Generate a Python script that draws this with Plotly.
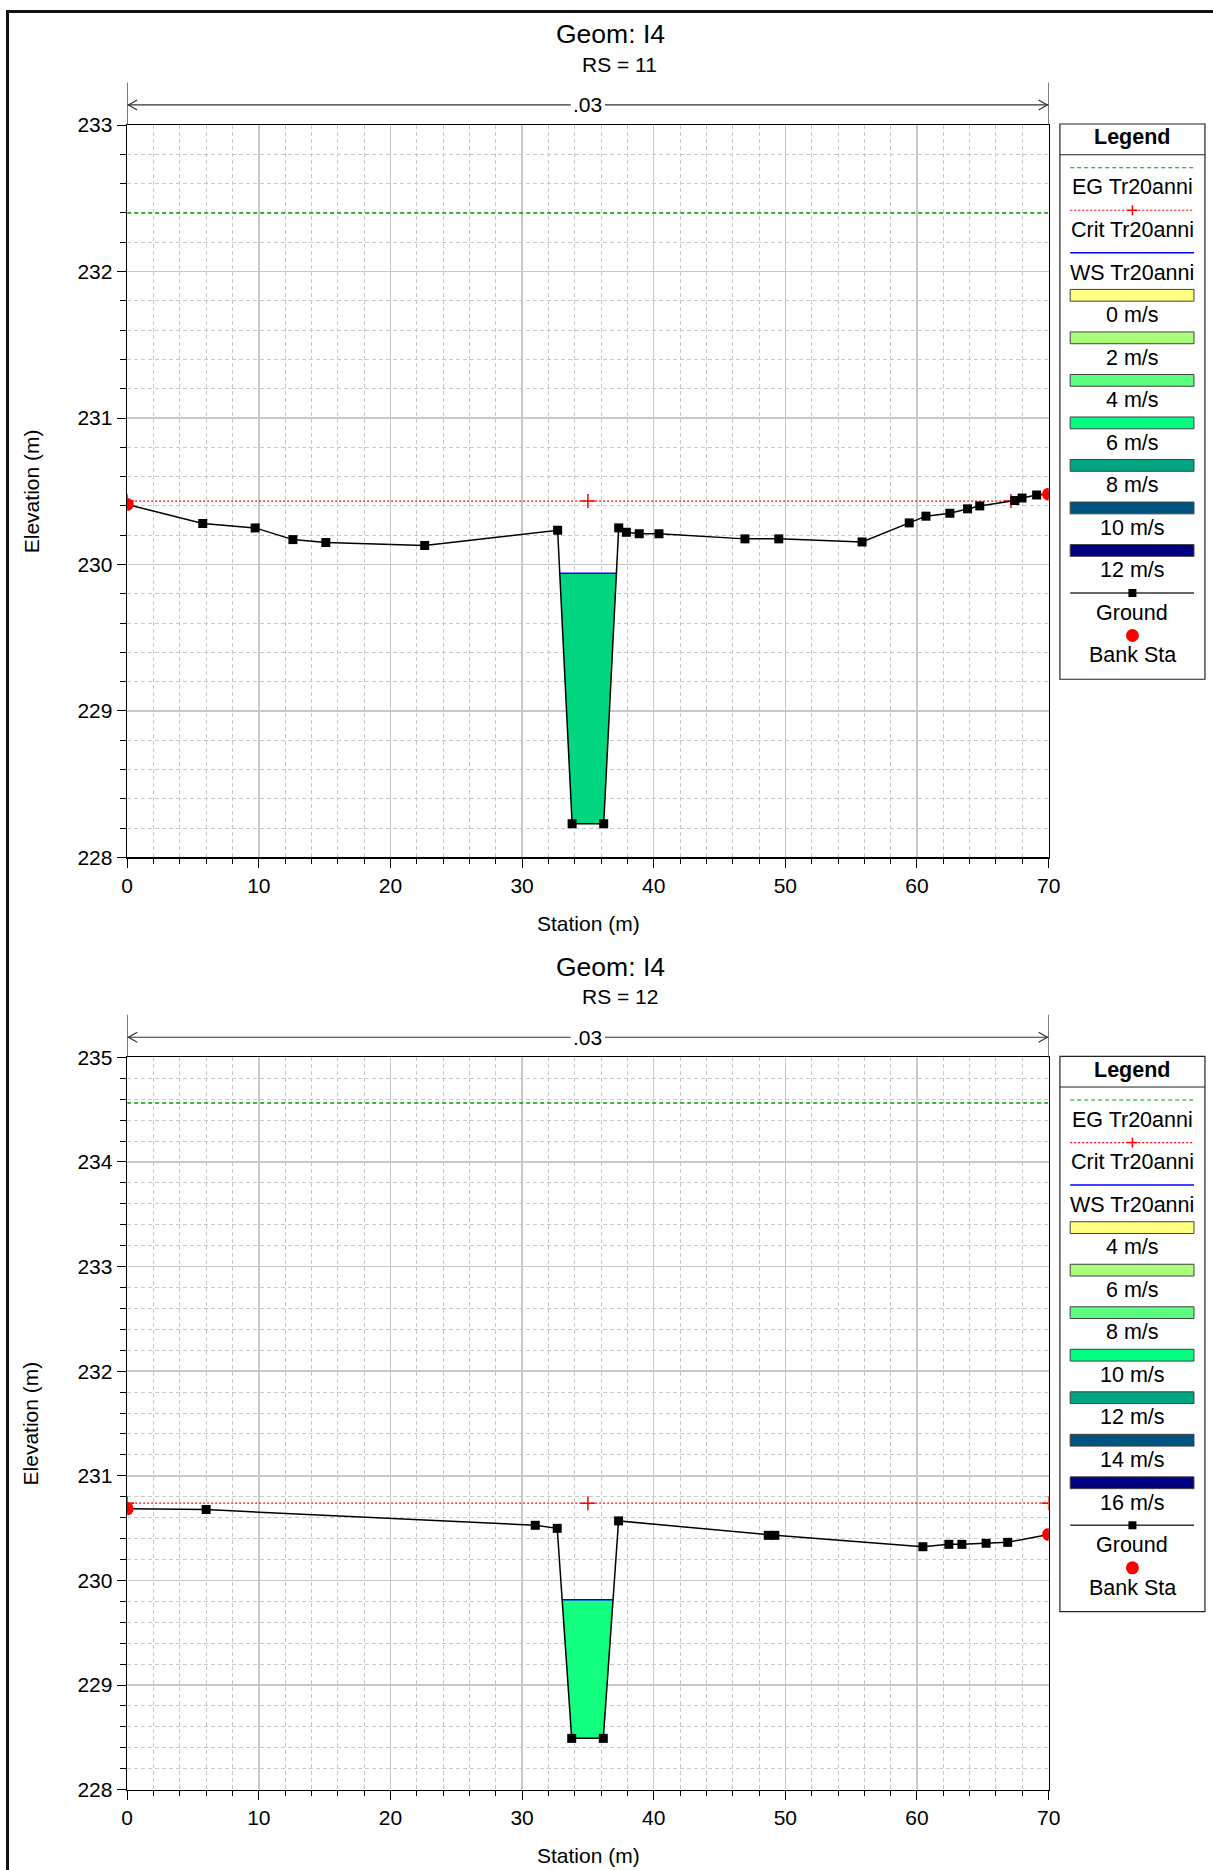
import numpy as np
import plotly.graph_objects as go

# ---------------- data ----------------
TITLE = "Geom: I4"
N_VALUE = ".03"

# RS = 11
RS_11 = "RS = 11"
STA_11 = [0.0, 5.74, 9.72, 12.59, 15.09, 22.6, 32.7, 33.8, 36.2, 37.34, 37.92, 38.9, 40.4,
          46.93, 49.5, 55.83, 59.41, 60.68, 62.5, 63.84, 64.77, 67.43, 67.98, 69.09, 70.0]
ELEV_11 = [230.41, 230.28, 230.25, 230.17, 230.15, 230.13, 230.234, 228.23, 228.23, 230.25,
           230.22, 230.21, 230.21, 230.175, 230.175, 230.154, 230.284, 230.33, 230.35, 230.38,
           230.40, 230.437, 230.454, 230.474, 230.48]
BANK_STA_11 = [0.0, 70.0]
BANK_ELEV_11 = [230.41, 230.48]
WS_11 = 229.94
CRIT_11 = 230.433
EG_11 = 232.40
CENTER_11 = 35.0
FILL_11 = "#00D680"
VEL_LABELS_11 = ["0 m/s", "2 m/s", "4 m/s", "6 m/s", "8 m/s", "10 m/s", "12 m/s"]
YRANGE_11 = [228, 233]

# RS = 12
RS_12 = "RS = 12"
STA_12 = [0.0, 6.0, 31.0, 32.67, 33.77, 36.17, 37.33, 48.7, 49.2, 60.45, 62.42, 63.41,
          65.25, 66.89, 70.0]
ELEV_12 = [230.684, 230.677, 230.527, 230.498, 228.49, 228.49, 230.569, 230.431, 230.431,
           230.322, 230.345, 230.345, 230.355, 230.364, 230.44]
BANK_STA_12 = [0.0, 70.0]
BANK_ELEV_12 = [230.684, 230.44]
WS_12 = 229.815
CRIT_12 = 230.738
EG_12 = 234.565
CENTER_12 = 35.0
FILL_12 = "#12FF80"
VEL_LABELS_12 = ["4 m/s", "6 m/s", "8 m/s", "10 m/s", "12 m/s", "14 m/s", "16 m/s"]
YRANGE_12 = [228, 235]

VEL_COLORS = ["#FFFF80", "#AAFF7A", "#5AFF80", "#00FF80", "#00A582", "#005580", "#000080"]
LEGEND_LINES = ["EG Tr20anni", "Crit Tr20anni", "WS Tr20anni"]

XRANGE = [0, 70]

# ---------------- layout constants ----------------
# positions below are given in target picture pixels; they are mapped to page pixels
W, H = 1226, 1884
SX, BX = 0.987, 5.0
SY, BY = 0.9895, 9.5
FONT = "Liberation Sans, Arial, sans-serif"
X0_PX, X1_PX = 126.4, 1049.4
PLOTS = [  # (top, bottom) target pixels
    (122.8, 856.4),
    (1056.7, 1790.2),
]
DY = PLOTS[1][0] - PLOTS[0][0]

F_TITLE = 26.5
F_SUB = 21
F_TICK = 21
F_AX = 21
F_LEG = 21.5


def px(x):
    return ((x - BX) / SX) / W


def py(y):
    return 1 - ((y - BY) / SY) / H


def crossing(sta, elev, level, center, direction):
    sta = np.asarray(sta, float)
    elev = np.asarray(elev, float)
    if direction > 0:
        idx = [i for i in range(len(sta)) if sta[i] > center]
        for i in idx:
            if elev[i] >= level:
                j = i - 1
                return sta[j] + (level - elev[j]) / (elev[i] - elev[j]) * (sta[i] - sta[j])
        return sta[-1]
    else:
        idx = [i for i in range(len(sta) - 1, -1, -1) if sta[i] < center]
        for i in idx:
            if elev[i] >= level:
                j = i + 1
                return sta[j] + (level - elev[j]) / (elev[i] - elev[j]) * (sta[i] - sta[j])
        return sta[0]


fig = go.Figure()
shapes = []
annotations = []

datasets = [
    dict(sta=STA_11, elev=ELEV_11, bsta=BANK_STA_11, belev=BANK_ELEV_11, ws=WS_11, crit=CRIT_11,
         eg=EG_11, center=CENTER_11, fill=FILL_11, vlabels=VEL_LABELS_11, yrange=YRANGE_11, rs=RS_11),
    dict(sta=STA_12, elev=ELEV_12, bsta=BANK_STA_12, belev=BANK_ELEV_12, ws=WS_12, crit=CRIT_12,
         eg=EG_12, center=CENTER_12, fill=FILL_12, vlabels=VEL_LABELS_12, yrange=YRANGE_12, rs=RS_12),
]

for k, d in enumerate(datasets):
    xa = "x" if k == 0 else "x2"
    ya = "y" if k == 0 else "y2"
    sta, elev = d["sta"], d["elev"]
    # water fill (velocity colour)
    xl = crossing(sta, elev, d["ws"], d["center"], -1)
    xr = crossing(sta, elev, d["ws"], d["center"], +1)
    inner = [(s, e) for s, e in zip(sta, elev) if xl < s < xr]
    fx = [xl] + [s for s, _ in inner] + [xr, xl]
    fy = [d["ws"]] + [e for _, e in inner] + [d["ws"], d["ws"]]
    fig.add_trace(go.Scatter(x=fx, y=fy, fill="toself", fillcolor=d["fill"], mode="lines",
                             line=dict(width=0, color=d["fill"]), xaxis=xa, yaxis=ya,
                             showlegend=False, hoverinfo="skip"))
    # EG
    fig.add_trace(go.Scatter(x=XRANGE, y=[d["eg"], d["eg"]], mode="lines",
                             line=dict(color="#00A000", width=1.5, dash="4px,3px"),
                             xaxis=xa, yaxis=ya, showlegend=False))
    # Crit
    cl = crossing(sta, elev, d["crit"], d["center"], -1)
    cr = crossing(sta, elev, d["crit"], d["center"], +1)
    fig.add_trace(go.Scatter(x=[cl, d["center"], cr], y=[d["crit"]] * 3, mode="lines+markers",
                             line=dict(color="#FF0000", width=1.2, dash="2px,2px"),
                             marker=dict(symbol="cross-thin", size=10,
                                         line=dict(color="#FF0000", width=1.5)),
                             xaxis=xa, yaxis=ya, showlegend=False))
    # WS
    fig.add_trace(go.Scatter(x=[xl, xr], y=[d["ws"], d["ws"]], mode="lines",
                             line=dict(color="#0000FF", width=1.6),
                             xaxis=xa, yaxis=ya, showlegend=False))
    # Ground
    fig.add_trace(go.Scatter(x=sta, y=elev, mode="lines+markers",
                             line=dict(color="#000000", width=1.5),
                             marker=dict(symbol="square", size=9, color="#000000"),
                             xaxis=xa, yaxis=ya, showlegend=False))
    # Bank stations
    fig.add_trace(go.Scatter(x=d["bsta"], y=d["belev"], mode="markers",
                             marker=dict(symbol="circle", size=13, color="#FF0000"),
                             xaxis=xa, yaxis=ya, showlegend=False))

    off = k * DY
    ptop, pbot = PLOTS[k]

    # titles
    annotations.append(dict(text=TITLE, x=px(611), y=py(32 + off), xref="paper", yref="paper",
                            showarrow=False, font=dict(family=FONT, size=F_TITLE, color="black"),
                            xanchor="center", yanchor="middle"))
    annotations.append(dict(text=d["rs"], x=px(620), y=py(62 + off), xref="paper", yref="paper",
                            showarrow=False, font=dict(family=FONT, size=F_SUB, color="black"),
                            xanchor="center", yanchor="middle"))
    # axis titles
    annotations.append(dict(text="Station (m)", x=px(588), y=py(pbot + 66), xref="paper",
                            yref="paper", showarrow=False,
                            font=dict(family=FONT, size=F_AX, color="black"),
                            xanchor="center", yanchor="middle"))
    annotations.append(dict(text="Elevation (m)", x=px(30), y=py((ptop + pbot) / 2),
                            xref="paper", yref="paper", showarrow=False, textangle=-90,
                            font=dict(family=FONT, size=F_AX, color="black"),
                            xanchor="center", yanchor="middle"))

    # n-value bar
    ny = py(102.6 + off)
    ah = 5 / SY / H
    aw = 0.76
    gap = 1.3
    mid = (XRANGE[0] + XRANGE[1]) / 2
    lc = "#333333"
    for xv in XRANGE:
        shapes.append(dict(type="line", xref=xa, yref="paper", x0=xv, x1=xv,
                           y0=py(80 + off), y1=py(ptop), line=dict(color=lc, width=1.2)))
    shapes.append(dict(type="line", xref=xa, yref="paper", x0=XRANGE[0], x1=mid - gap,
                       y0=ny, y1=ny, line=dict(color=lc, width=1.2)))
    shapes.append(dict(type="line", xref=xa, yref="paper", x0=mid + gap, x1=XRANGE[1],
                       y0=ny, y1=ny, line=dict(color=lc, width=1.2)))
    shapes.append(dict(type="path", xref=xa, yref="paper",
                       path=f"M {XRANGE[0] + aw},{ny + ah} L {XRANGE[0] + 0.1},{ny} L {XRANGE[0] + aw},{ny - ah}",
                       line=dict(color=lc, width=1.2)))
    shapes.append(dict(type="path", xref=xa, yref="paper",
                       path=f"M {XRANGE[1] - aw},{ny + ah} L {XRANGE[1] - 0.1},{ny} L {XRANGE[1] - aw},{ny - ah}",
                       line=dict(color=lc, width=1.2)))
    annotations.append(dict(text=N_VALUE, x=mid, y=ny, xref=xa, yref="paper", showarrow=False,
                            font=dict(family=FONT, size=F_SUB, color="black"),
                            xanchor="center", yanchor="middle"))

    # ---------- custom legend ----------
    bx0, bx1 = 1060.7, 1206
    by0, by1 = 121.7 + off, 677.9 + off
    sx0, sx1 = 1071, 1195
    cx = (bx0 + bx1) / 2
    shapes.append(dict(type="rect", xref="paper", yref="paper", x0=px(bx0), x1=px(bx1),
                       y0=py(by0), y1=py(by1), line=dict(color="#222222", width=1.2),
                       fillcolor="white", layer="below"))
    shapes.append(dict(type="line", xref="paper", yref="paper", x0=px(bx0), x1=px(bx1),
                       y0=py(152.5 + off), y1=py(152.5 + off), line=dict(color="#222222", width=1)))
    annotations.append(dict(text="<b>Legend</b>", x=px(cx), y=py(135.2 + off), xref="paper",
                            yref="paper", showarrow=False,
                            font=dict(family=FONT, size=F_LEG, color="black"),
                            xanchor="center", yanchor="middle"))
    labels = LEGEND_LINES + d["vlabels"] + ["Ground", "Bank Sta"]
    for i, lab in enumerate(labels):
        sy = 165.5 + 42.6 * i + off
        ty = sy + 19.8
        annotations.append(dict(text=lab, x=px(cx), y=py(ty), xref="paper", yref="paper",
                                showarrow=False, font=dict(family=FONT, size=F_LEG, color="black"),
                                xanchor="center", yanchor="middle"))
        if i == 0:
            shapes.append(dict(type="line", xref="paper", yref="paper", x0=px(sx0), x1=px(sx1),
                               y0=py(sy), y1=py(sy),
                               line=dict(color="#00A000", width=1.2, dash="4px,3px")))
        elif i == 1:
            shapes.append(dict(type="line", xref="paper", yref="paper", x0=px(sx0), x1=px(sx1),
                               y0=py(sy), y1=py(sy),
                               line=dict(color="#FF0000", width=1.2, dash="2px,2px")))
            shapes.append(dict(type="line", xref="paper", yref="paper", x0=px(cx - 5), x1=px(cx + 5),
                               y0=py(sy), y1=py(sy), line=dict(color="#FF0000", width=1.5)))
            shapes.append(dict(type="line", xref="paper", yref="paper", x0=px(cx), x1=px(cx),
                               y0=py(sy - 5), y1=py(sy + 5), line=dict(color="#FF0000", width=1.5)))
        elif i == 2:
            shapes.append(dict(type="line", xref="paper", yref="paper", x0=px(sx0), x1=px(sx1),
                               y0=py(sy), y1=py(sy), line=dict(color="#0000FF", width=1.5)))
        elif 3 <= i <= 9:
            shapes.append(dict(type="rect", xref="paper", yref="paper", x0=px(sx0), x1=px(sx1),
                               y0=py(sy - 5.9), y1=py(sy + 5.9), fillcolor=VEL_COLORS[i - 3],
                               line=dict(color="#404040", width=1)))
        elif i == 10:
            shapes.append(dict(type="line", xref="paper", yref="paper", x0=px(sx0), x1=px(sx1),
                               y0=py(sy), y1=py(sy), line=dict(color="#333333", width=1.5)))
            shapes.append(dict(type="rect", xref="paper", yref="paper", x0=px(cx - 4), x1=px(cx + 4),
                               y0=py(sy - 4), y1=py(sy + 4), fillcolor="black",
                               line=dict(color="black", width=0)))
        else:
            shapes.append(dict(type="circle", xref="paper", yref="paper", x0=px(cx - 6.5),
                               x1=px(cx + 6.5), y0=py(sy - 6.5), y1=py(sy + 6.5),
                               fillcolor="#FF0000", line=dict(color="#FF0000", width=0)))

# frame border (top and left)
shapes.append(dict(type="line", xref="paper", yref="paper", x0=px(5), x1=1, y0=py(9), y1=py(9),
                   line=dict(color="#111111", width=3)))
shapes.append(dict(type="line", xref="paper", yref="paper", x0=px(6.5), x1=px(6.5), y0=py(8),
                   y1=0, line=dict(color="#111111", width=3)))


def xaxis_cfg(anchor):
    return dict(domain=[px(X0_PX), px(X1_PX)], range=XRANGE, anchor=anchor, dtick=10, tick0=0,
                showline=True, mirror=True, linecolor="black", linewidth=1.5,
                ticks="outside", ticklen=9, tickcolor="black", tickwidth=1,
                showgrid=True, gridcolor="#C8C8C8", gridwidth=1.5, zeroline=False,
                tickfont=dict(family=FONT, size=F_TICK, color="black"),
                minor=dict(dtick=2, tick0=0, showgrid=True, gridcolor="#C8C8C8", gridwidth=1,
                           griddash="4px,3px", ticks="outside", ticklen=5, tickcolor="black"))


def yaxis_cfg(anchor, k, yr):
    ptop, pbot = PLOTS[k]
    return dict(domain=[py(pbot), py(ptop)], range=yr, anchor=anchor, dtick=1, tick0=0,
                showline=True, mirror=True, linecolor="black", linewidth=1.5,
                ticks="outside", ticklen=9, tickcolor="black", tickwidth=1,
                showgrid=True, gridcolor="#C8C8C8", gridwidth=1.5, zeroline=False,
                tickfont=dict(family=FONT, size=F_TICK, color="black"),
                minor=dict(dtick=0.2, tick0=0, showgrid=True, gridcolor="#C8C8C8", gridwidth=1,
                           griddash="4px,3px", ticks="outside", ticklen=6, tickcolor="black"))


fig.update_layout(
    width=W, height=H, autosize=False,
    margin=dict(l=0, r=0, t=0, b=0),
    paper_bgcolor="white", plot_bgcolor="white",
    showlegend=False,
    xaxis=xaxis_cfg("y"),
    yaxis=yaxis_cfg("x", 0, YRANGE_11),
    xaxis2=xaxis_cfg("y2"),
    yaxis2=yaxis_cfg("x2", 1, YRANGE_12),
    shapes=shapes,
    annotations=annotations,
    font=dict(family=FONT, color="black"),
)

fig.write_html(
    "out.html",
    config={"displayModeBar": False, "staticPlot": True},
    post_script="document.body.style.margin='0';",
)
